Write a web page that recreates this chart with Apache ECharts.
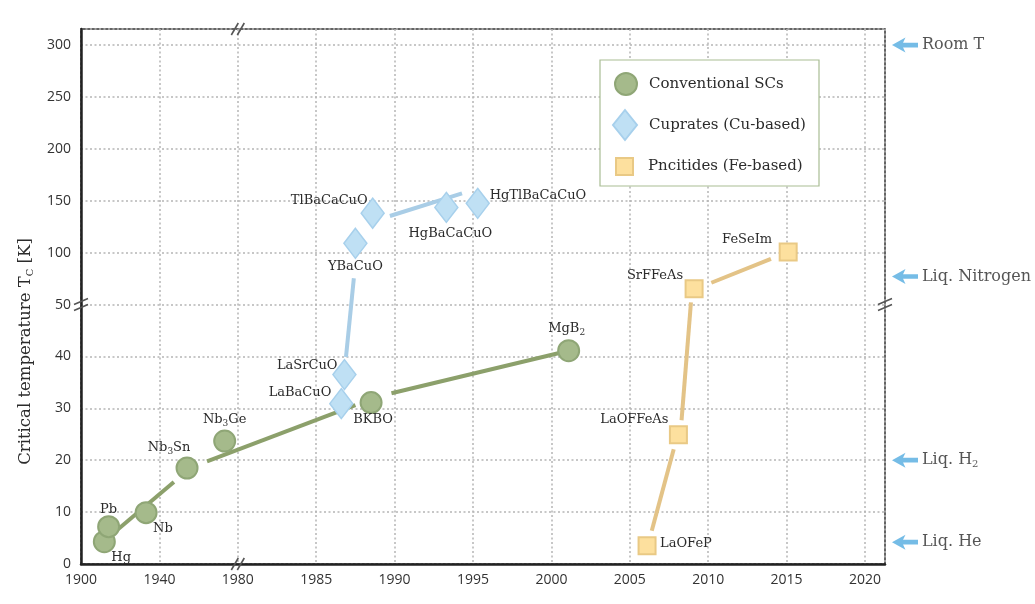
<!DOCTYPE html>
<html>
<head>
<meta charset="utf-8">
<script src="https://cdn.jsdelivr.net/npm/echarts@6/dist/echarts.min.js"></script>
<style>
  html, body { margin: 0; padding: 0; background: #fff; }
  #chart { width: 1035px; height: 604px; }
</style>
</head>
<body>
<div id="chart"></div>
<script>
// ---- data: discovery year and critical temperature (K) ----
const conventionalNames = ['Hg', 'Pb', 'Nb', 'Nb3Sn', 'Nb3Ge', 'BKBO', 'MgB2'];
const conventionalYears = [1911.9, 1914.1, 1933.2, 1954.1, 1973.3, 1988.5, 2001.1];
const conventionalTc    = [4.3, 7.2, 9.9, 18.5, 23.7, 31.1, 41.1];

const cuprateNames = ['LaBaCuO', 'LaSrCuO', 'YBaCuO', 'TlBaCaCuO', 'HgBaCaCuO', 'HgTlBaCaCuO'];
const cuprateYears = [1986.6, 1986.8, 1987.5, 1988.6, 1993.3, 1995.3];
const cuprateTc    = [30.9, 36.5, 109, 138, 143.6, 147.5];

const pnictideNames = ['LaOFeP', 'LaOFFeAs', 'SrFFeAs', 'FeSeIm'];
const pnictideYears = [2006.1, 2008.1, 2009.1, 2015.1];
const pnictideTc    = [3.5, 24.9, 65.2, 100.6];

// trend segments: [yearStart, TcStart, yearEnd, TcEnd]
const conventionalTrend = [[1918.9, 6.7, 1947.4, 15.8], [1964.3, 19.8, 1987.5, 30.6], [1989.8, 32.9, 2000.7, 40.8]];
const cuprateTrend      = [[1986.9, 39.9, 1987.4, 75.3], [1989.7, 135.3, 1994.3, 157.1]];
const pnictideTrend     = [[2006.4, 6.4, 2007.8, 22.1], [2008.3, 27.7, 2008.9, 52.1], [2010.2, 71, 2014.0, 94.1]];

// reference temperatures
const referenceNames = ['Room T', 'Liq. Nitrogen', 'Liq. H2', 'Liq. He'];
const referenceTc    = [300, 77, 20, 4.2];

// tick values on the two broken axes
const yearTicks = [1900, 1940, 1980, 1985, 1990, 1995, 2000, 2005, 2010, 2015, 2020];
const tcTicks   = [0, 10, 20, 30, 40, 50, 100, 150, 200, 250, 300];

// ---- label placement (offset from marker centre, text alignment) ----
const conventionalLabelPos = [[7, 16, 'left'], [0, -17, 'center'], [7, 16, 'left'], [-18, -20, 'center'], [0, -21, 'center'], [2, 17, 'center'], [-2, -22, 'center']];
const cuprateLabelPos = [[-10, -11, 'right'], [-7, -9, 'right'], [0, 23, 'center'], [-5, -13, 'right'], [4, 26, 'center'], [12, -8, 'left']];
const pnictideLabelPos = [[13, -2, 'left'], [-10, -15, 'right'], [-11, -13, 'right'], [-16, -12, 'right']];

// ---- broken-axis mapping: each tick interval is one axis unit ----
function segIndex(v, ticks) {
  for (let i = 0; i < ticks.length - 1; i++) {
    if (v <= ticks[i + 1]) return i;
  }
  return ticks.length - 2;
}
function toAxis(v, ticks) {
  const i = segIndex(v, ticks);
  return i + (v - ticks[i]) / (ticks[i + 1] - ticks[i]);
}
const fx = v => toAxis(v, yearTicks);
const fy = v => toAxis(v, tcTicks);
function tickLabel(v, ticks) {
  const r = Math.round(v);
  if (Math.abs(v - r) > 1e-6 || r < 0 || r >= ticks.length) return '';
  return String(ticks[r]);
}

const SERIF = '"DejaVu Serif", serif';
const SANS = '"Open Sans", "Noto Sans", sans-serif';
const richSub = {
  sub: { fontSize: 9, padding: [7, 0, 0, 0], fontFamily: SERIF, color: '#333' }
};
function fmtName(n) {
  return n.replace(/([A-Za-z])(\d)/g, '$1{sub|$2}');
}

function pointData(names, years, tcs, pos) {
  return names.map((n, i) => ({
    name: n,
    value: [fx(years[i]), fy(tcs[i])],
    label: {
      show: true,
      formatter: fmtName(n),
      position: 'inside',
      offset: [pos[i][0], pos[i][1]],
      align: pos[i][2],
      verticalAlign: 'middle',
      fontFamily: SERIF,
      fontSize: 13,
      color: '#2b2b2b',
      rich: richSub
    }
  }));
}
function trendData(segs) {
  return segs.map(s => ({ coords: [[fx(s[0]), fy(s[1])], [fx(s[2]), fy(s[3])]] }));
}

const green = { fill: '#a5ba8b', border: '#8fa676', line: '#8ca06b' };
const blue = { fill: '#bfe0f4', border: '#a7d0ec', line: '#a9cde6' };
const yellow = { fill: '#fde09e', border: '#e9c985', line: '#e3c387' };

const chart = echarts.init(document.getElementById('chart'), null, { renderer: 'canvas' });

const X_MAX = 10.255, Y_MAX = 10.31;

function legendItem(name, icon, w, h, left, top, pad) {
  return {
    data: [{ name: name, icon: icon }],
    left: left, top: top,
    itemWidth: w, itemHeight: h,
    selectedMode: false,
    padding: 0,
    textStyle: { fontFamily: SERIF, fontSize: 15, color: '#2b2b2b', padding: [0, 0, 0, pad] }
  };
}

const option = {
  backgroundColor: '#fff',
  animation: false,
  grid: { left: 81, right: 150, top: 29, bottom: 40, show: true, borderColor: '#333', borderWidth: 1.5, backgroundColor: 'transparent' },
  legend: [
    legendItem('Conventional SCs', 'circle', 22, 22, 614, 72, 7),
    legendItem('Cuprates (Cu-based)', 'diamond', 24, 30, 612, 109, 7),
    legendItem('Pncitides (Fe-based)', 'rect', 17, 17, 615, 157, 10)
  ],
  xAxis: {
    type: 'value', min: 0, max: X_MAX, interval: 1,
    axisLine: { show: true, onZero: false, lineStyle: { color: '#222', width: 2.5 } },
    axisTick: { show: false },
    axisLabel: {
      margin: 9, fontFamily: SANS, fontSize: 14, color: '#333',
      formatter: v => tickLabel(v, yearTicks),
      showMaxLabel: false
    },
    splitLine: { show: true, lineStyle: { type: [2, 2.5], color: '#b5b5b5', width: 1.5 } }
  },
  yAxis: {
    type: 'value', min: 0, max: Y_MAX, interval: 1,
    axisLine: { show: true, onZero: false, lineStyle: { color: '#222', width: 2.5 } },
    axisTick: { show: false },
    axisLabel: {
      margin: 10, fontFamily: SANS, fontSize: 14, color: '#333',
      formatter: v => tickLabel(v, tcTicks),
      showMaxLabel: false
    },
    splitLine: { show: true, lineStyle: { type: [2, 2.5], color: '#b5b5b5', width: 1.5 } },
    name: 'Critical temperature T{sub|C} [K]',
    nameLocation: 'middle',
    nameGap: 46,
    nameTextStyle: {
      fontFamily: SERIF, fontSize: 16.5, color: '#2b2b2b',
      padding: [0, 110, 0, 0],
      rich: { sub: { fontSize: 10, padding: [8, 0, 0, 0], fontFamily: SERIF, color: '#2b2b2b' } }
    }
  },
  series: [
    {
      type: 'lines', coordinateSystem: 'cartesian2d', silent: true, z: 2,
      lineStyle: { color: green.line, width: 4, opacity: 1 },
      data: trendData(conventionalTrend)
    },
    {
      type: 'lines', coordinateSystem: 'cartesian2d', silent: true, z: 2,
      lineStyle: { color: blue.line, width: 4, opacity: 1 },
      data: trendData(cuprateTrend)
    },
    {
      type: 'lines', coordinateSystem: 'cartesian2d', silent: true, z: 2,
      lineStyle: { color: yellow.line, width: 4, opacity: 1 },
      data: trendData(pnictideTrend)
    },
    {
      name: 'Conventional SCs', type: 'scatter', z: 3,
      symbol: 'circle', symbolSize: 21,
      itemStyle: { color: green.fill, borderColor: green.border, borderWidth: 2, opacity: 1 },
      data: pointData(conventionalNames, conventionalYears, conventionalTc, conventionalLabelPos)
    },
    {
      name: 'Cuprates (Cu-based)', type: 'scatter', z: 3,
      symbol: 'diamond', symbolSize: [23, 30],
      itemStyle: { color: blue.fill, borderColor: blue.border, borderWidth: 1.5, opacity: 1 },
      data: pointData(cuprateNames, cuprateYears, cuprateTc, cuprateLabelPos)
    },
    {
      name: 'Pncitides (Fe-based)', type: 'scatter', z: 3,
      symbol: 'rect', symbolSize: 17,
      itemStyle: { color: yellow.fill, borderColor: yellow.border, borderWidth: 2, opacity: 1 },
      data: pointData(pnictideNames, pnictideYears, pnictideTc, pnictideLabelPos)
    },
    {
      // reference temperature markers beyond the right edge of the plot
      type: 'scatter', silent: true, clip: false, z: 3,
      symbol: 'path://M0,8 L14,0 L11.5,5.5 L27,5.5 L27,10.5 L11.5,10.5 L14,16 Z',
      symbolSize: [26, 15],
      itemStyle: { color: '#52abe0' },
      label: {
        show: true, position: 'right', distance: 4,
        fontFamily: SERIF, fontSize: 16, color: '#2b2b2b',
        formatter: p => fmtName(p.name),
        rich: { sub: { fontSize: 10, padding: [8, 0, 0, 0], fontFamily: SERIF, color: '#2b2b2b' } }
      },
      data: referenceNames.map((n, i) => ({ name: n, value: [10.51, fy(referenceTc[i])] }))
    }
  ]
};

chart.setOption(option);

// legend frame and axis-break marks
const yBreak = fy(50), xBreak = fx(1980);
const pTop = chart.convertToPixel({ gridIndex: 0 }, [xBreak, Y_MAX]);
const pBottom = chart.convertToPixel({ gridIndex: 0 }, [xBreak, 0]);
const pLeft = chart.convertToPixel({ gridIndex: 0 }, [0, yBreak]);
const pRight = chart.convertToPixel({ gridIndex: 0 }, [X_MAX, yBreak]);

function verticalBreak(p) {
  return [-3, 3].map(o => ({
    type: 'line', z: 20, silent: true,
    shape: { x1: p[0] + o - 3.5, y1: p[1] + 6, x2: p[0] + o + 3.5, y2: p[1] - 6 },
    style: { stroke: '#555', lineWidth: 1.6 }
  }));
}
function horizontalBreak(p) {
  return [-3, 3].map(o => ({
    type: 'line', z: 20, silent: true,
    shape: { x1: p[0] - 7, y1: p[1] + o + 3, x2: p[0] + 7, y2: p[1] + o - 3 },
    style: { stroke: '#555', lineWidth: 1.6 }
  }));
}

chart.setOption({
  graphic: [
    {
      type: 'rect', z: 1, silent: true,
      shape: { x: 600, y: 60, width: 219, height: 126 },
      style: { fill: '#fff', stroke: '#a9bd94', lineWidth: 1.2 }
    }
  ].concat(verticalBreak(pTop), verticalBreak(pBottom), horizontalBreak(pLeft), horizontalBreak(pRight))
});
</script>
</body>
</html>
